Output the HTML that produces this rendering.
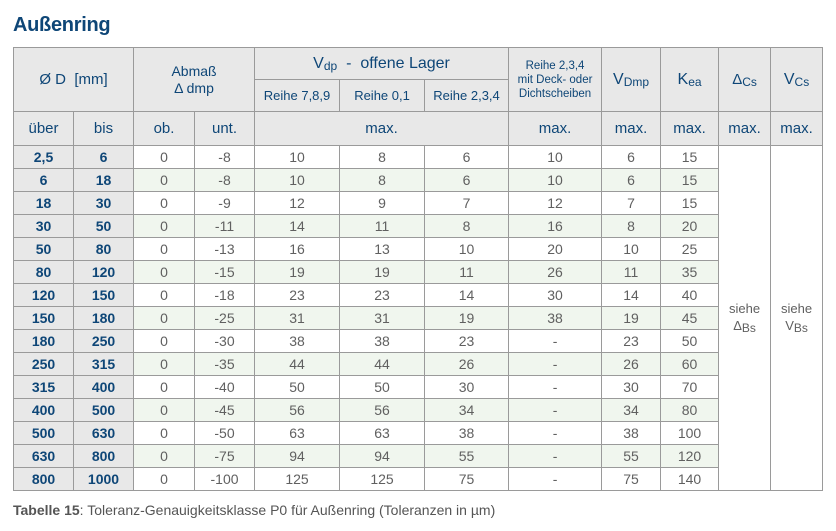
<!DOCTYPE html>
<html><head><meta charset="utf-8"><style>
body{margin:0;width:836px;height:531px;background:#fff;font-family:"Liberation Sans",sans-serif;position:relative;overflow:hidden}
h1{position:absolute;left:13px;top:14px;margin:0;font-size:20px;font-weight:bold;color:#0e4677;letter-spacing:-0.3px}
table{position:absolute;left:13px;top:47px;border-collapse:collapse;table-layout:fixed;width:809px}
td{border:1px solid #9a9a9a;text-align:center;padding:0;color:#606060;font-size:14px;overflow:hidden;white-space:nowrap}
.h{background:#e8e8e8;color:#0e4677;font-size:15px}
.k{background:#e8e8e8;color:#0e4677;font-weight:bold;font-size:14px}
tr.d td{height:22px}
tr.g td.v{background:#f0f6ee}
.s{font-size:14px;line-height:17px}
.r{font-size:13px}
.sm{font-size:11.5px;line-height:14px}
sub{font-size:12px;vertical-align:-2px}
.cap{position:absolute;left:13px;top:502px;font-size:14px;color:#555}
</style></head><body>
<h1>Außenring</h1>
<table>
<colgroup><col style="width:60px"><col style="width:60px"><col style="width:61px"><col style="width:60px"><col style="width:85px"><col style="width:85px"><col style="width:84px"><col style="width:93px"><col style="width:59px"><col style="width:58px"><col style="width:52px"><col style="width:52px"></colgroup>
<tr style="height:32px"><td class="h" colspan="2" rowspan="2">Ø D&nbsp; [mm]</td><td class="h s" colspan="2" rowspan="2">Abmaß<br>Δ dmp</td><td class="h" colspan="3" style="font-size:16px">V<sub>dp</sub>&nbsp; - &nbsp;offene Lager</td><td class="h sm" rowspan="2">Reihe 2,3,4<br>mit Deck- oder<br>Dichtscheiben</td><td class="h" rowspan="2" style="font-size:16px">V<sub>Dmp</sub></td><td class="h" rowspan="2" style="font-size:16px">K<sub>ea</sub></td><td class="h" rowspan="2" style="font-size:15px">Δ<sub>Cs</sub></td><td class="h" rowspan="2" style="font-size:16px">V<sub>Cs</sub></td></tr>
<tr style="height:32px"><td class="h r">Reihe 7,8,9</td><td class="h r">Reihe 0,1</td><td class="h r">Reihe 2,3,4</td></tr>
<tr style="height:34px"><td class="h">über</td><td class="h">bis</td><td class="h">ob.</td><td class="h">unt.</td><td class="h" colspan="3">max.</td><td class="h">max.</td><td class="h">max.</td><td class="h">max.</td><td class="h">max.</td><td class="h">max.</td></tr>
<tr class="d"><td class="k">2,5</td><td class="k">6</td><td class="v">0</td><td class="v">-8</td><td class="v">10</td><td class="v">8</td><td class="v">6</td><td class="v">10</td><td class="v">6</td><td class="v">15</td><td rowspan="15" style="font-size:13px;line-height:17px">siehe<br>Δ<sub>Bs</sub></td><td rowspan="15" style="font-size:13px;line-height:17px">siehe<br>V<sub>Bs</sub></td></tr>
<tr class="d g"><td class="k">6</td><td class="k">18</td><td class="v">0</td><td class="v">-8</td><td class="v">10</td><td class="v">8</td><td class="v">6</td><td class="v">10</td><td class="v">6</td><td class="v">15</td></tr>
<tr class="d"><td class="k">18</td><td class="k">30</td><td class="v">0</td><td class="v">-9</td><td class="v">12</td><td class="v">9</td><td class="v">7</td><td class="v">12</td><td class="v">7</td><td class="v">15</td></tr>
<tr class="d g"><td class="k">30</td><td class="k">50</td><td class="v">0</td><td class="v">-11</td><td class="v">14</td><td class="v">11</td><td class="v">8</td><td class="v">16</td><td class="v">8</td><td class="v">20</td></tr>
<tr class="d"><td class="k">50</td><td class="k">80</td><td class="v">0</td><td class="v">-13</td><td class="v">16</td><td class="v">13</td><td class="v">10</td><td class="v">20</td><td class="v">10</td><td class="v">25</td></tr>
<tr class="d g"><td class="k">80</td><td class="k">120</td><td class="v">0</td><td class="v">-15</td><td class="v">19</td><td class="v">19</td><td class="v">11</td><td class="v">26</td><td class="v">11</td><td class="v">35</td></tr>
<tr class="d"><td class="k">120</td><td class="k">150</td><td class="v">0</td><td class="v">-18</td><td class="v">23</td><td class="v">23</td><td class="v">14</td><td class="v">30</td><td class="v">14</td><td class="v">40</td></tr>
<tr class="d g"><td class="k">150</td><td class="k">180</td><td class="v">0</td><td class="v">-25</td><td class="v">31</td><td class="v">31</td><td class="v">19</td><td class="v">38</td><td class="v">19</td><td class="v">45</td></tr>
<tr class="d"><td class="k">180</td><td class="k">250</td><td class="v">0</td><td class="v">-30</td><td class="v">38</td><td class="v">38</td><td class="v">23</td><td class="v">-</td><td class="v">23</td><td class="v">50</td></tr>
<tr class="d g"><td class="k">250</td><td class="k">315</td><td class="v">0</td><td class="v">-35</td><td class="v">44</td><td class="v">44</td><td class="v">26</td><td class="v">-</td><td class="v">26</td><td class="v">60</td></tr>
<tr class="d"><td class="k">315</td><td class="k">400</td><td class="v">0</td><td class="v">-40</td><td class="v">50</td><td class="v">50</td><td class="v">30</td><td class="v">-</td><td class="v">30</td><td class="v">70</td></tr>
<tr class="d g"><td class="k">400</td><td class="k">500</td><td class="v">0</td><td class="v">-45</td><td class="v">56</td><td class="v">56</td><td class="v">34</td><td class="v">-</td><td class="v">34</td><td class="v">80</td></tr>
<tr class="d"><td class="k">500</td><td class="k">630</td><td class="v">0</td><td class="v">-50</td><td class="v">63</td><td class="v">63</td><td class="v">38</td><td class="v">-</td><td class="v">38</td><td class="v">100</td></tr>
<tr class="d g"><td class="k">630</td><td class="k">800</td><td class="v">0</td><td class="v">-75</td><td class="v">94</td><td class="v">94</td><td class="v">55</td><td class="v">-</td><td class="v">55</td><td class="v">120</td></tr>
<tr class="d"><td class="k">800</td><td class="k">1000</td><td class="v">0</td><td class="v">-100</td><td class="v">125</td><td class="v">125</td><td class="v">75</td><td class="v">-</td><td class="v">75</td><td class="v">140</td></tr>
</table>
<div class="cap"><b>Tabelle 15</b>: Toleranz-Genauigkeitsklasse P0 für Außenring (Toleranzen in µm)</div>
</body></html>
